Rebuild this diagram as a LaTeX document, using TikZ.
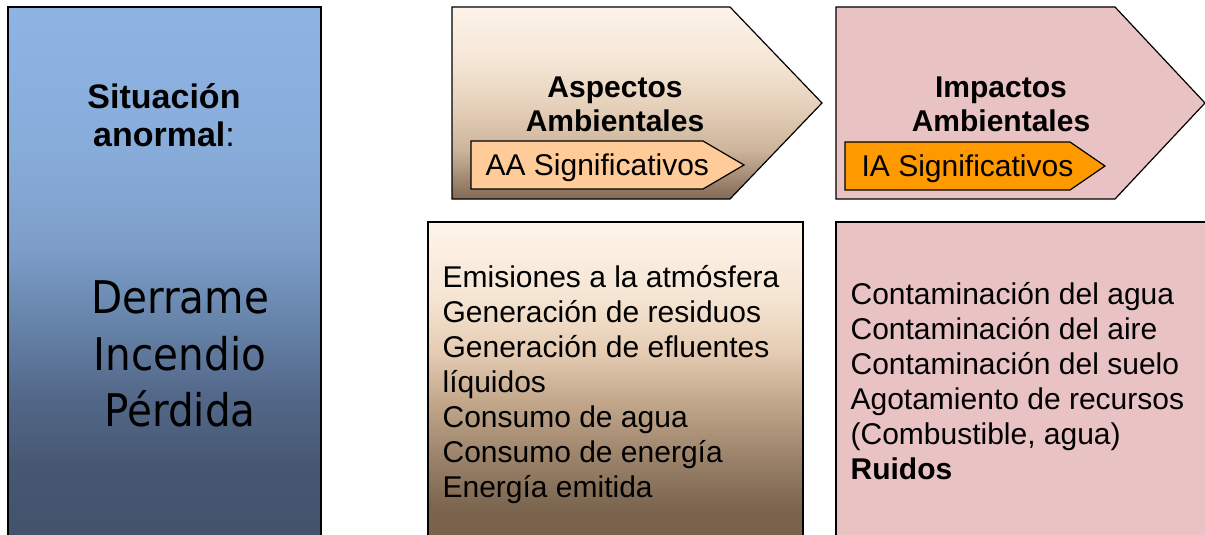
\documentclass[tikz,border=0pt]{standalone}
\usepackage{fontspec}
\setmainfont{Liberation Sans}
\newfontfamily\tahomafont[FakeStretch=0.9]{DejaVu Sans}
\definecolor{peach}{RGB}{255,204,153}
\definecolor{rosepink}{RGB}{233,194,196}
\definecolor{ambar}{RGB}{255,153,0}
% degradados (la caja ocupa de 25bp a 75bp)
\pgfdeclareverticalshading{skyfade}{100bp}{%
  rgb(0bp)=(0.259,0.322,0.42); rgb(25bp)=(0.259,0.322,0.42);
  rgb(32bp)=(0.275,0.341,0.447); rgb(38.5bp)=(0.322,0.404,0.533);
  rgb(45.9bp)=(0.404,0.518,0.667); rgb(52.4bp)=(0.486,0.616,0.784);
  rgb(61.7bp)=(0.533,0.675,0.855); rgb(75bp)=(0.557,0.706,0.894);
  rgb(100bp)=(0.557,0.706,0.894)}
\pgfdeclareverticalshading{arrowfade}{100bp}{%
  rgb(0bp)=(0.51,0.412,0.337); rgb(25bp)=(0.51,0.412,0.337);
  rgb(37.75bp)=(0.804,0.706,0.608); rgb(50.8bp)=(0.91,0.831,0.745);
  rgb(61.2bp)=(0.961,0.902,0.843); rgb(75bp)=(0.992,0.953,0.91);
  rgb(100bp)=(0.992,0.953,0.91)}
\pgfdeclareverticalshading{boxfade}{100bp}{%
  rgb(0bp)=(0.471,0.38,0.294); rgb(25bp)=(0.471,0.38,0.294);
  rgb(31.75bp)=(0.478,0.392,0.306); rgb(40.75bp)=(0.627,0.529,0.431);
  rgb(48.25bp)=(0.765,0.659,0.549); rgb(55.8bp)=(0.902,0.804,0.706);
  rgb(63.3bp)=(0.961,0.894,0.824); rgb(75bp)=(0.996,0.961,0.922);
  rgb(100bp)=(0.996,0.961,0.922)}
\begin{document}
\begin{tikzpicture}[x=1pt,y=-1pt,line width=1.2pt,
    tit/.style={font=\fontsize{30}{34}\selectfont\bfseries,anchor=base},
    sig/.style={font=\fontsize{30}{34}\selectfont,anchor=base west,inner sep=0pt},
    lst/.style={font=\fontsize{30}{35}\selectfont,anchor=base west,inner sep=0pt}]
  \useasboundingbox (0,0) rectangle (1205,535);
  % columna izquierda
  \shade[draw=black,shading=skyfade] (8,545) -- (8,7) -- (321,7) -- (321,545);
  \node[font=\fontsize{34}{38}\selectfont\bfseries,anchor=base] (sit) at (164,108) {Situación};
  \node[font=\fontsize{34}{38}\selectfont,anchor=base] (anor) at (164,146) {\textbf{anormal}:};
  \foreach \t/\yy [count=\i] in {Derrame/313,Incendio/370,Pérdida/426}
    \node[font=\tahomafont\fontsize{45}{57}\selectfont,anchor=base] (sit\i) at (180,\yy) {\t};
  % flechas superiores
  \shade[draw=black,shading=arrowfade]
    (452,7) -- (730,7) -- (822,103) -- (730,199) -- (452,199) -- cycle;
  \draw[fill=peach] (471,141) -- (703,141) -- (744,165) -- (703,189) -- (471,189) -- cycle;
  \node[tit] (asp) at (615,97) {Aspectos};
  \node[tit] (asp2) at (615,131) {Ambientales};
  \node[sig] (aas) at (485,175) {AA Significativos};
  \draw[fill=rosepink] (836,7) -- (1115,7) -- (1205,103) -- (1115,199) -- (836,199) -- cycle;
  \draw[fill=ambar] (845,142) -- (1070,142) -- (1105,166) -- (1070,190) -- (845,190) -- cycle;
  \node[tit] (imp) at (1001,97) {Impactos};
  \node[tit] (imp2) at (1001,131) {Ambientales};
  \node[sig] (ias) at (861,176) {IA Significativos};
  % cajas inferiores
  \shade[draw=black,shading=boxfade] (428,555) -- (428,222) -- (803,222) -- (803,555);
  \foreach \t [count=\i] in {Emisiones a la atmósfera,Generación de residuos,
      Generación de efluentes,líquidos,Consumo de agua,Consumo de energía,Energía emitida}
    \node[lst] (aa\i) at (442,287+35*\i-35) {\t};
  \draw[fill=rosepink] (836,545) -- (836,222) -- (1212,222) -- (1212,545);
  \foreach \t [count=\i] in {Contaminación del agua,Contaminación del aire,
      Contaminación del suelo,Agotamiento de recursos,{(Combustible, agua)},\textbf{Ruidos}}
    \node[lst] (ia\i) at (850,304+35*\i-35) {\t};
\end{tikzpicture}
\end{document}
